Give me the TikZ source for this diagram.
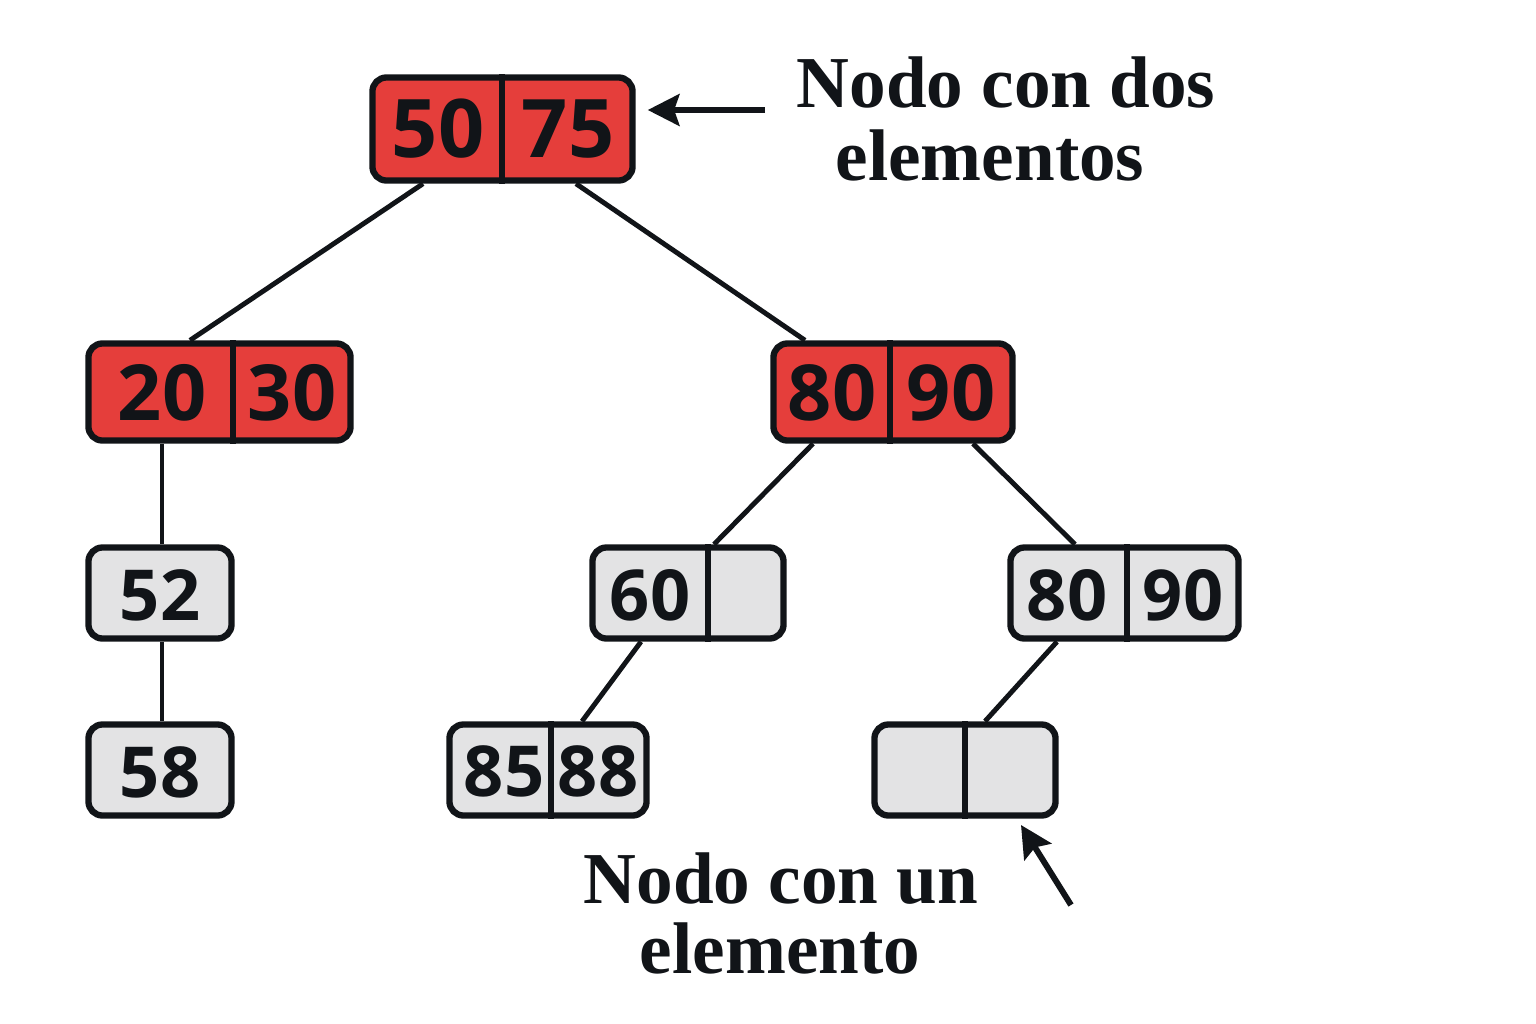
\documentclass[tikz,border=0pt]{standalone}
\usepackage{fontspec}
\setmainfont{Liberation Serif}
\setsansfont{Open Sans}
\usetikzlibrary{arrows.meta}

\definecolor{nodered}{HTML}{E53E3B}
\definecolor{nodegray}{HTML}{E3E3E4}
\definecolor{ink}{HTML}{111418}

\begin{document}
\begin{tikzpicture}[x=0.01cm, y=-0.01cm,
    box/.style={draw=ink, line width=1.8pt, rounded corners=4pt, inner sep=0pt},
    redbox/.style={box, fill=nodered},
    graybox/.style={box, fill=nodegray},
    divider/.style={draw=ink, line width=1.8pt},
    key/.style={text=ink, font=\sffamily\bfseries\fontsize{20}{20}\selectfont, inner sep=0pt},
    bigkey/.style={key, font=\sffamily\bfseries\fontsize{23}{23}\selectfont},
    midkey/.style={key, font=\sffamily\bfseries\fontsize{22}{22}\selectfont},
    edge/.style={draw=ink, line width=1.4pt},
    pointer/.style={draw=ink, line width=1.7pt, -{Stealth[length=9pt, width=9pt, inset=1.5pt]}},
    note/.style={text=ink, font=\bfseries\fontsize{20.8}{20.8}\selectfont, inner sep=0pt, anchor=base}]

    \useasboundingbox (0,0) rectangle (1536,1024);
    \fill[white] (0,0) rectangle (1536,1024);

    % level 0
    \node[redbox, minimum width=2.60cm, minimum height=1.03cm] (n5075) at (502.5,129) {};
    \draw[divider] (502,0 |- n5075.north) -- (502,0 |- n5075.south);
    \node[bigkey] (k50) at (438,129) {50};
    \node[bigkey] (k75) at (568,129) {75};

    % level 1
    \node[redbox, minimum width=2.62cm, minimum height=0.97cm] (n2030) at (219.5,392) {};
    \draw[divider] (233,0 |- n2030.north) -- (233,0 |- n2030.south);
    \node[midkey] (k20) at (162,393) {20};
    \node[midkey] (k30) at (292,393) {30};

    \node[redbox, minimum width=2.39cm, minimum height=0.97cm] (n8090) at (893,392) {};
    \draw[divider] (890,0 |- n8090.north) -- (890,0 |- n8090.south);
    \node[midkey] (k80) at (832,393) {80};
    \node[midkey] (k90) at (951,393) {90};

    % level 2
    \node[graybox, minimum width=1.43cm, minimum height=0.91cm] (n52) at (160,593) {};
    \node[key] (k52) at (160,595) {52};

    \node[graybox, minimum width=1.91cm, minimum height=0.91cm] (n60) at (688,593) {};
    \draw[divider] (708,0 |- n60.north) -- (708,0 |- n60.south);
    \node[key] (k60) at (650,595) {60};

    \node[graybox, minimum width=2.28cm, minimum height=0.91cm] (n8090b) at (1124.5,593) {};
    \draw[divider] (1127,0 |- n8090b.north) -- (1127,0 |- n8090b.south);
    \node[key] (k80b) at (1067,595) {80};
    \node[key] (k90b) at (1183,595) {90};

    % level 3
    \node[graybox, minimum width=1.43cm, minimum height=0.91cm] (n58) at (160,770) {};
    \node[key] (k58) at (160,772) {58};

    \node[graybox, minimum width=1.97cm, minimum height=0.91cm] (n8588) at (548,770) {};
    \draw[divider] (551,0 |- n8588.north) -- (551,0 |- n8588.south);
    \node[key] (k85) at (504,771) {85};
    \node[key] (k88) at (598,771) {88};

    \node[graybox, minimum width=1.81cm, minimum height=0.91cm] (nempty) at (965,770) {};
    \draw[divider] (965,0 |- nempty.north) -- (965,0 |- nempty.south);

    % edges
    \draw[edge] (423,0 |- n5075.south) -- (190,0 |- n2030.north);
    \draw[edge] (576,0 |- n5075.south) -- (805,0 |- n8090.north);
    \draw[edge] (162,0 |- n2030.south) -- (162,0 |- n52.north);
    \draw[edge] (162,0 |- n52.south) -- (162,0 |- n58.north);
    \draw[edge] (813,0 |- n8090.south) -- (714,0 |- n60.north);
    \draw[edge] (973,0 |- n8090.south) -- (1075,0 |- n8090b.north);
    \draw[edge] (641,0 |- n60.south) -- (582,0 |- n8588.north);
    \draw[edge] (1057,0 |- n8090b.south) -- (985,0 |- nempty.north);

    % notes
    \node[note] (notetop) at (1006,107) {Nodo con dos};
    \node[note] (notetopb) at (990,180) {elementos};
    \node[note] (notebot) at (781,903) {Nodo con un};
    \node[note] (notebotb) at (780,973) {elemento};

    \coordinate (tailtop) at (765,110);
    \draw[pointer] (tailtop) -- ([xshift=0.12cm]n5075.east |- tailtop);
    \coordinate (tailbot) at (1071,905);
    \coordinate (tipbot) at (1021,825);
    \draw[pointer] (tailbot) -- (tipbot);
\end{tikzpicture}
\end{document}
